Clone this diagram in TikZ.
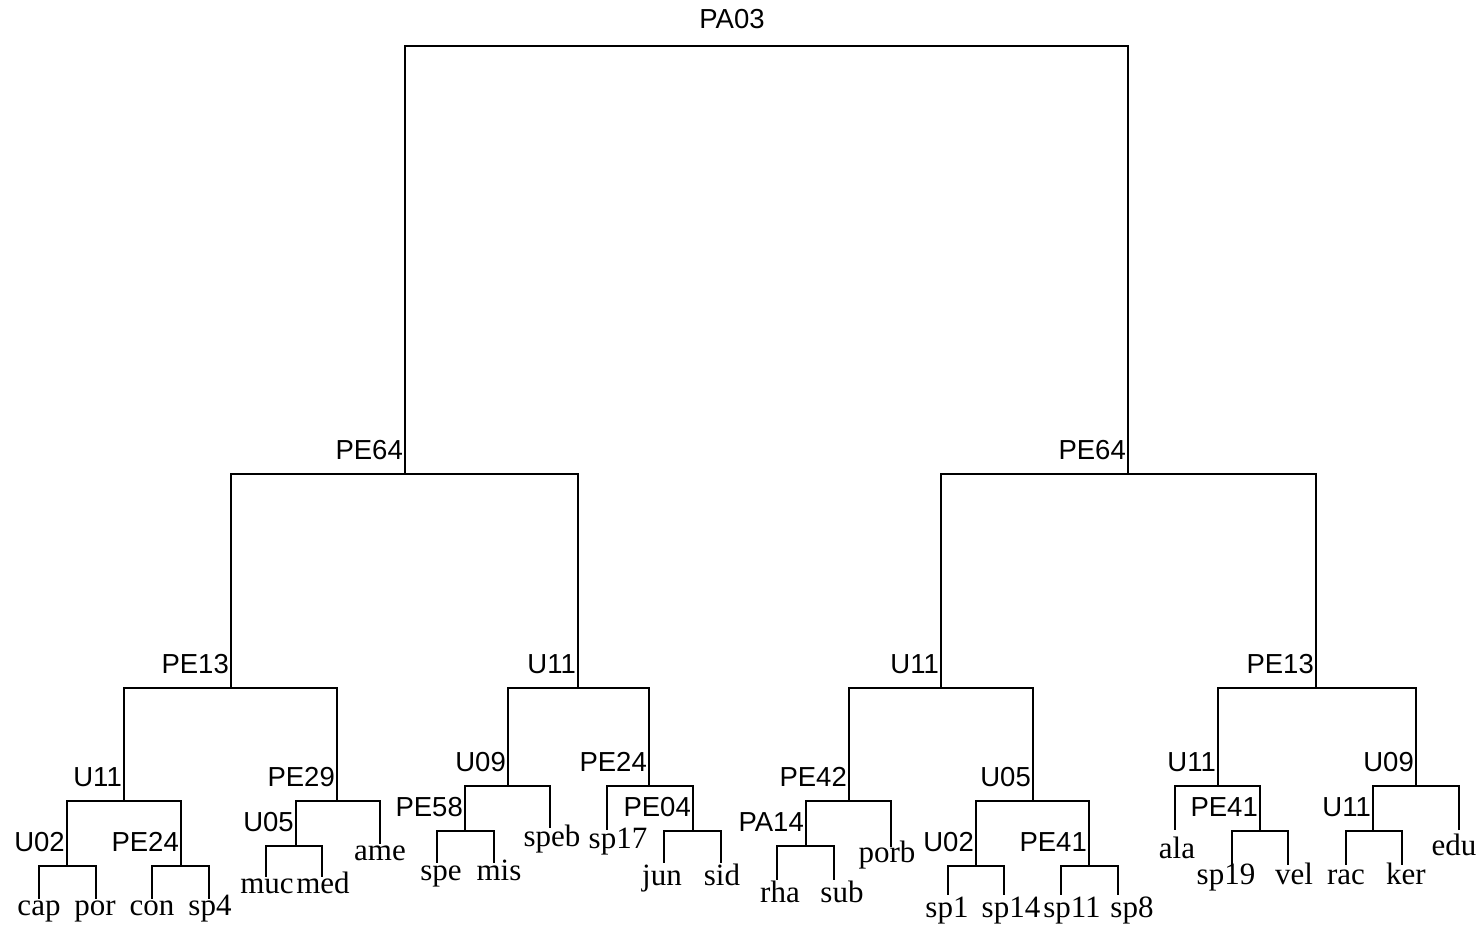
\documentclass[tikz,border=0pt]{standalone}
\usepackage{fontspec}
\setmainfont{Liberation Serif}
\newfontfamily\markerfont{Liberation Sans}

% junctions: stem x / bar y / name
\def\joinlist{{766/46/top}, {405/474/l}, {1128/474/r},
  {231/688/ll}, {578/688/lr}, {941/688/rl}, {1316/688/rr},
  {124/801/lll}, {337/801/llr}, {508/786/lrl}, {649/786/lrr},
  {849/801/rll}, {1033/801/rlr}, {1218/786/rrl}, {1416/786/rrr},
  {67/866/llla}, {181/866/lllb}, {296/846/llra}, {465/831/lrla},
  {693/831/lrrb}, {806/846/rlla}, {976/866/rlra}, {1089/866/rlrb},
  {1260/831/rrlb}, {1373/831/rrra}}
% leaves: x / end y / text x / text base / name
\def\leaflist{{39/899/39/915/cap}, {96/899/95/915/por}, {152/899/152/915/con},
  {209/899/210/915/sp4}, {266/877/267/893/muc}, {322/877/323/893/med},
  {380/844/380/860/ame}, {437/863/441/880/spe}, {494/863/499/880/mis},
  {550/828/552/846/speb}, {607/830/618/848/sp17}, {664/863/662/885/jun},
  {721/863/722/885/sid}, {777/880/780/902/rha}, {834/880/842/902/sub},
  {891/847/887/862/porb}, {948/895/947/917/sp1}, {1004/895/1011/917/sp14},
  {1061/895/1072/917/sp11}, {1118/895/1132/917/sp8}, {1175/830/1177/858/ala},
  {1232/865/1226/884/sp19}, {1288/865/1294/884/vel}, {1346/865/1346/884/rac},
  {1402/865/1406/884/ker}, {1459/830/1454/855/edu}}

\tikzstyle{edge}=[draw, line width=1.4pt, -]
\tikzstyle{marker}=[inner sep=0pt, anchor=base east, xshift=-2pt, yshift=15pt, font=\markerfont\fontsize{27.5}{30}\selectfont]
\tikzstyle{leaf}=[inner sep=0pt, anchor=base, font=\fontsize{31}{34}\selectfont]

\begin{document}
\begin{tikzpicture}[x=1pt, y=-1pt]
  \useasboundingbox (0,0) rectangle (1481,925);

  \foreach \x/\y/\name in \joinlist {
    \coordinate (\name) at (\x,\y);
  }
  \foreach \x/\ye/\lx/\ly/\name in \leaflist {
    \coordinate (\name) at (\x,\ye);
    \node[leaf] (\name-txt) at (\lx,\ly) {\name};
  }

  \node[font=\markerfont\fontsize{27.5}{30}\selectfont, anchor=base, inner sep=0pt] (title) at (732,29) {PA03};

  \foreach \name/\txt in {l/PE64, r/PE64, ll/PE13, lr/U11, rl/U11, rr/PE13,
      lll/U11, llr/PE29, lrl/U09, lrr/PE24, rll/PE42, rlr/U05, rrl/U11, rrr/U09,
      llla/U02, lllb/PE24, llra/U05, lrla/PE58, lrrb/PE04, rlla/PA14,
      rlra/U02, rlrb/PE41, rrlb/PE41, rrra/U11} {
    \node[marker] (\name-lab) at (\name) {\txt};
  }

  \foreach \source/\sink in {top/l, top/r, l/ll, l/lr, r/rl, r/rr,
      ll/lll, ll/llr, lr/lrl, lr/lrr, rl/rll, rl/rlr, rr/rrl, rr/rrr,
      lll/llla, lll/lllb, llr/llra, llr/ame, lrl/lrla, lrl/speb, lrr/sp17, lrr/lrrb,
      rll/rlla, rll/porb, rlr/rlra, rlr/rlrb, rrl/ala, rrl/rrlb, rrr/rrra, rrr/edu,
      llla/cap, llla/por, lllb/con, lllb/sp4, llra/muc, llra/med, lrla/spe, lrla/mis,
      lrrb/jun, lrrb/sid, rlla/rha, rlla/sub, rlra/sp1, rlra/sp14, rlrb/sp11, rlrb/sp8,
      rrlb/sp19, rrlb/vel, rrra/rac, rrra/ker} {
    \path[edge] (\source) -| (\sink);
  }
\end{tikzpicture}
\end{document}
